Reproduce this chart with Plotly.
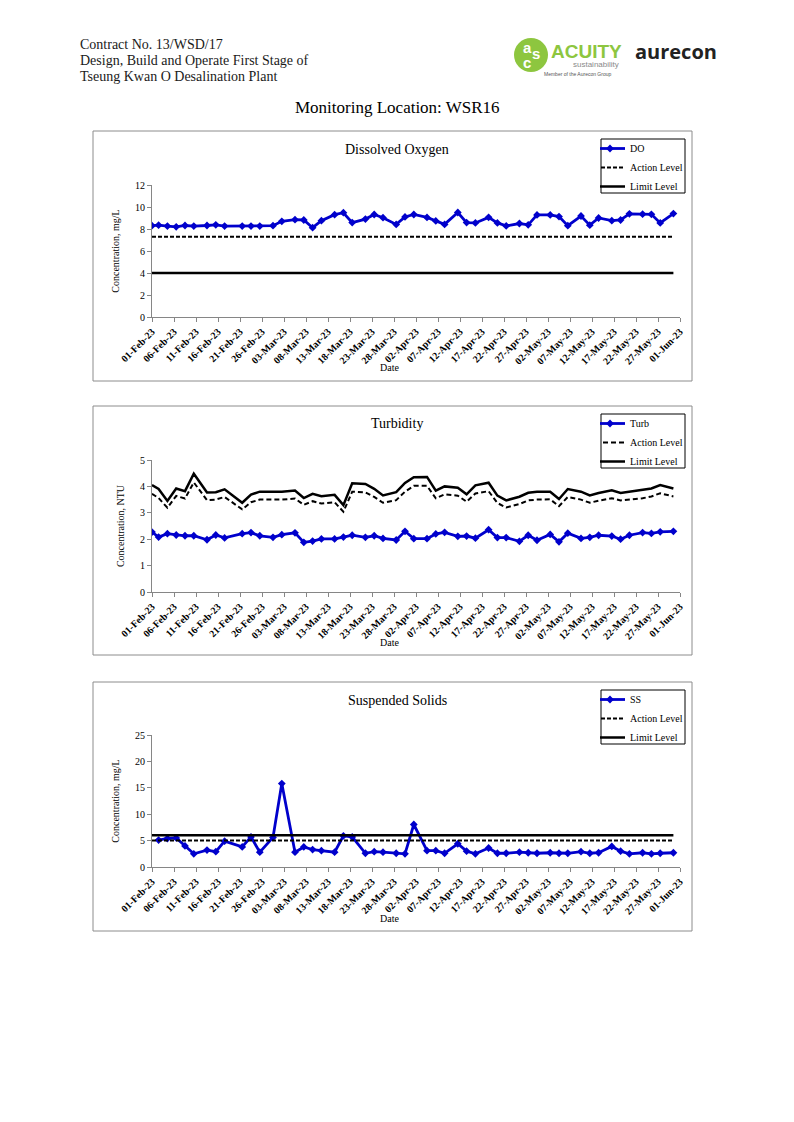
import plotly.graph_objects as go

# ---------------- data ----------------
dates = [
    "2023-02-01 00:00", "2023-02-02 12:00", "2023-02-04 12:00", "2023-02-06 12:00", "2023-02-08 12:00",
    "2023-02-10 12:00", "2023-02-13 12:00", "2023-02-15 12:00", "2023-02-17 12:00", "2023-02-21 12:00",
    "2023-02-23 12:00", "2023-02-25 12:00", "2023-02-28 12:00", "2023-03-02 12:00", "2023-03-05 12:00",
    "2023-03-07 12:00", "2023-03-09 12:00", "2023-03-11 12:00", "2023-03-14 12:00", "2023-03-16 12:00",
    "2023-03-18 12:00", "2023-03-21 12:00", "2023-03-23 12:00", "2023-03-25 12:00", "2023-03-28 12:00",
    "2023-03-30 12:00", "2023-04-01 12:00", "2023-04-04 12:00", "2023-04-06 12:00", "2023-04-08 12:00",
    "2023-04-11 12:00", "2023-04-13 12:00", "2023-04-15 12:00", "2023-04-18 12:00", "2023-04-20 12:00",
    "2023-04-22 12:00", "2023-04-25 12:00", "2023-04-27 12:00", "2023-04-29 12:00", "2023-05-02 12:00",
    "2023-05-04 12:00", "2023-05-06 12:00", "2023-05-09 12:00", "2023-05-11 12:00", "2023-05-13 12:00",
    "2023-05-16 12:00", "2023-05-18 12:00", "2023-05-20 12:00", "2023-05-23 12:00", "2023-05-25 12:00",
    "2023-05-27 12:00", "2023-05-30 12:00",
]

do_values = [
    8.30, 8.35, 8.27, 8.20, 8.32, 8.27, 8.32, 8.38, 8.27, 8.27,
    8.27, 8.27, 8.30, 8.70, 8.85, 8.82, 8.12, 8.76, 9.30, 9.48,
    8.58, 8.90, 9.32, 9.03, 8.42, 9.10, 9.32, 9.05, 8.73, 8.42,
    9.50, 8.58, 8.55, 9.06, 8.55, 8.28, 8.50, 8.38, 9.28, 9.28,
    9.13, 8.30, 9.18, 8.35, 9.00, 8.76, 8.82, 9.38, 9.35, 9.33,
    8.55, 9.40,
]
do_action_level = 7.3
do_limit_level = 4.0

turb_values = [
    2.27, 2.08, 2.21, 2.16, 2.13, 2.13, 1.98, 2.16, 2.05, 2.21,
    2.25, 2.13, 2.07, 2.17, 2.24, 1.88, 1.93, 2.01, 2.01, 2.08,
    2.15, 2.07, 2.13, 2.03, 1.97, 2.30, 2.02, 2.02, 2.20, 2.26,
    2.11, 2.12, 2.04, 2.36, 2.06, 2.06, 1.92, 2.15, 1.96, 2.18,
    1.90, 2.23, 2.03, 2.07, 2.15, 2.12, 2.00, 2.15, 2.25, 2.22,
    2.28, 2.30,
]
turb_action = [
    3.72, 3.56, 3.19, 3.64, 3.54, 4.15, 3.48, 3.50, 3.60, 3.13,
    3.40, 3.50, 3.50, 3.50, 3.54, 3.30, 3.44, 3.35, 3.40, 3.04,
    3.80, 3.77, 3.60, 3.38, 3.48, 3.80, 4.02, 4.02, 3.55, 3.70,
    3.65, 3.42, 3.73, 3.82, 3.37, 3.20, 3.33, 3.47, 3.50, 3.51,
    3.25, 3.60, 3.50, 3.38, 3.46, 3.55, 3.47, 3.51, 3.55, 3.62,
    3.74, 3.62,
]
turb_limit = [
    4.05, 3.90, 3.45, 3.92, 3.82, 4.48, 3.77, 3.78, 3.89, 3.38,
    3.69, 3.80, 3.80, 3.80, 3.84, 3.56, 3.72, 3.63, 3.68, 3.29,
    4.12, 4.09, 3.91, 3.66, 3.78, 4.13, 4.35, 4.36, 3.84, 4.00,
    3.95, 3.70, 4.04, 4.14, 3.65, 3.47, 3.61, 3.76, 3.80, 3.80,
    3.52, 3.90, 3.80, 3.66, 3.75, 3.85, 3.75, 3.80, 3.85, 3.92,
    4.05, 3.92,
]

ss_values = [
    None, 5.1, 5.4, 5.5, 4.0, 2.5, 3.2, 2.9, 4.9, 3.8,
    5.7, 2.8, 5.6, 15.8, 2.8, 3.8, 3.3, 3.1, 2.8, 5.9,
    5.7, 2.6, 2.9, 2.8, 2.6, 2.5, 8.05, 3.1, 3.1, 2.6,
    4.4, 3.0, 2.5, 3.6, 2.6, 2.6, 2.8, 2.7, 2.6, 2.7,
    2.6, 2.6, 2.9, 2.6, 2.7, 3.9, 3.0, 2.5, 2.7, 2.5,
    2.6, 2.7,
]
ss_action_level = 5.0
ss_limit_level = 6.0

# ---------------- layout helpers ----------------
OFF = 8                      # default body margin of the html page
W, H = 794 - 2 * OFF, 1122 - 2 * OFF
SERIF = "Liberation Serif"
BLUE = "#0000CC"


def px(x):
    return (x - OFF) / W


def py(y):
    return 1 - (y - OFF) / H


charts = [
    dict(name="DO", title="Dissolved Oxygen", ytitle="Concentration, mg/L",
         y=do_values, action=[do_action_level] * len(dates), limit=[do_limit_level] * len(dates),
         yr=[0, 12], dt=2, box=(93, 131, 692, 381), plot=(185, 317), dash="4px,2px"),
    dict(name="Turb", title="Turbidity", ytitle="Concentration, NTU",
         y=turb_values, action=turb_action, limit=turb_limit,
         yr=[0, 5], dt=1, box=(93, 406, 692, 655), plot=(460, 592), dash="5px,3px"),
    dict(name="SS", title="Suspended Solids", ytitle="Concentration, mg/L",
         y=ss_values, action=[ss_action_level] * len(dates), limit=[ss_limit_level] * len(dates),
         yr=[0, 25], dt=5, box=(93, 682, 692, 931), plot=(735, 867), dash="4px,2px"),
]

fig = go.Figure()
layout = dict(
    width=W, height=H, margin=dict(l=0, r=0, t=0, b=0),
    paper_bgcolor="white", plot_bgcolor="white", template="none",
    shapes=[], annotations=[],
)

for i, c in enumerate(charts):
    k = "" if i == 0 else str(i + 1)
    xa, ya = "x" + k, "y" + k
    leg = "legend" + k
    fig.add_trace(go.Scatter(x=dates, y=c["y"], xaxis=xa, yaxis=ya, name=c["name"],
                             mode="lines+markers", legend=leg,
                             line=dict(color=BLUE, width=2.8),
                             marker=dict(symbol="diamond", size=6, color=BLUE)))
    fig.add_trace(go.Scatter(x=dates, y=c["action"], xaxis=xa, yaxis=ya, name="Action Level",
                             mode="lines", legend=leg,
                             line=dict(color="black", width=2, dash=c["dash"])))
    fig.add_trace(go.Scatter(x=dates, y=c["limit"], xaxis=xa, yaxis=ya, name="Limit Level",
                             mode="lines", legend=leg,
                             line=dict(color="black", width=2.5)))

    top, bot = c["plot"]
    x0b, y0b, x1b, y1b = c["box"]
    layout["xaxis" + k] = dict(
        domain=[px(152), px(680)], anchor=ya, range=["2023-02-01", "2023-06-01"],
        type="date", tick0="2023-02-01", dtick=5 * 86400000, tickformat="%d-%b-%y",
        tickangle=-45, tickfont=dict(family=SERIF, size=10, color="black", weight="bold"),
        showline=True, linecolor="#868686", linewidth=1, ticks="outside", ticklen=4,
        tickcolor="#868686", showgrid=False, zeroline=False, automargin=False,
    )
    layout["yaxis" + k] = dict(
        domain=[py(bot), py(top)], anchor=xa, range=c["yr"], dtick=c["dt"],
        tickfont=dict(family=SERIF, size=10, color="black"),
        showline=True, linecolor="#868686", linewidth=1, ticks="outside", ticklen=4,
        tickcolor="#868686", showgrid=False, zeroline=False, automargin=False,
        title=dict(text=c["ytitle"], font=dict(family=SERIF, size=10, color="black"), standoff=13),
    )
    # legend box (frame) and legend entries
    layout["shapes"].append(dict(type="rect", xref="paper", yref="paper", layer="above",
                                 x0=px(601), x1=px(685), y0=py(y0b + 62), y1=py(y0b + 8),
                                 line=dict(color="black", width=1), fillcolor="white"))
    layout[leg] = dict(
        x=px(600), y=py(y0b + 3), xanchor="left", yanchor="top",
        bgcolor="rgba(0,0,0,0)", borderwidth=0,
        font=dict(family=SERIF, size=10, color="black"),
        itemwidth=30, tracegroupgap=0, traceorder="normal", indentation=-10,
    )
    layout["shapes"].append(dict(type="rect", xref="paper", yref="paper",
                                 x0=px(x0b), x1=px(x1b), y0=py(y1b), y1=py(y0b),
                                 line=dict(color="#8c8c8c", width=1), fillcolor="rgba(0,0,0,0)"))
    layout["annotations"].append(dict(text=c["title"], xref="paper", yref="paper",
                                      x=px(397), y=py(y0b + 18), xanchor="center", yanchor="middle",
                                      showarrow=False, font=dict(family=SERIF, size=14, color="black")))
    layout["annotations"].append(dict(text="Date", xref="paper", yref="paper",
                                      x=px(389), y=py(y0b + 236), xanchor="center", yanchor="middle",
                                      showarrow=False, font=dict(family=SERIF, size=10, color="black")))

# header texts
header = ["Contract No. 13/WSD/17", "Design, Build and Operate First Stage of",
          "Tseung Kwan O Desalination Plant"]
for j, t in enumerate(header):
    layout["annotations"].append(dict(text=t, xref="paper", yref="paper", x=px(78), y=py(45 + 16 * j),
                                      xanchor="left", yanchor="middle", showarrow=False,
                                      font=dict(family=SERIF, size=14, color="#1a1a1a")))
layout["annotations"].append(dict(text="Monitoring Location: WSR16", xref="paper", yref="paper",
                                  x=px(397), y=py(108), xanchor="center", yanchor="middle",
                                  showarrow=False, font=dict(family=SERIF, size=17, color="black")))

# logos
GREEN = "#8DC63F"
layout["shapes"].append(dict(type="circle", xref="paper", yref="paper",
                             x0=px(514), x1=px(548), y0=py(72), y1=py(38),
                             fillcolor=GREEN, line=dict(width=0)))
for t, (lx, ly, sz) in {"a": (527, 47, 15), "s": (536, 53, 15), "c": (527, 62, 15)}.items():
    layout["annotations"].append(dict(text=t, xref="paper", yref="paper", x=px(lx), y=py(ly),
                                      xanchor="center", yanchor="middle", showarrow=False,
                                      font=dict(family="Liberation Sans", size=sz, color="white",
                                                weight="bold")))
layout["annotations"] += [
    dict(text="ACUITY", xref="paper", yref="paper", x=px(549), y=py(51), xanchor="left",
         yanchor="middle", showarrow=False,
         font=dict(family="Liberation Sans", size=19, color=GREEN, weight="bold")),
    dict(text="sustainability", xref="paper", yref="paper", x=px(621), y=py(64), xanchor="right",
         yanchor="middle", showarrow=False,
         font=dict(family="Liberation Sans", size=8, color="#8a8a8a")),
    dict(text="Member of the Aurecon Group", xref="paper", yref="paper", x=px(577), y=py(74),
         xanchor="center", yanchor="middle", showarrow=False,
         font=dict(family="Liberation Sans", size=5, color="#555555")),
    dict(text="aurecon", xref="paper", yref="paper", x=px(633), y=py(51), xanchor="left",
         yanchor="middle", showarrow=False,
         font=dict(family="Open Sans", size=20, color="#222222", weight="bold")),
]

fig.update_layout(**layout)
fig.write_html("out.html")
